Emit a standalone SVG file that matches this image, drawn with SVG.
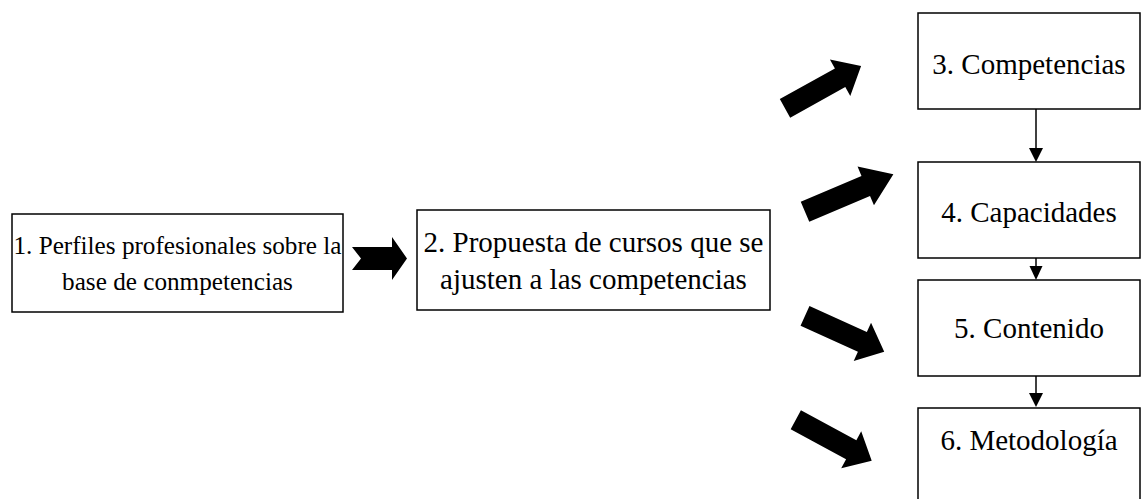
<svg xmlns="http://www.w3.org/2000/svg" width="1142" height="499" viewBox="0 0 1142 499">
  <style>
    .box { fill: #ffffff; stroke: #000000; stroke-width: 1.5; }
    .t { font-family: "Liberation Serif", "Times New Roman", serif; fill: #000000; text-anchor: middle; }
    .t25 { font-size: 25.2px; }
    .t28 { font-size: 29px; }
    .blk { fill: #000000; stroke: none; }
    .ln { stroke: #000000; stroke-width: 1.5; fill: none; }
  </style>
  <rect x="0" y="0" width="1142" height="499" fill="#ffffff"/>
  <g id="node1">
    <rect class="box" x="12" y="214" width="331" height="98"/>
    <text class="t t25" x="177.5" y="254">1. Perfiles profesionales sobre la</text>
    <text class="t t25" x="177.5" y="290">base de conmpetencias</text>
  </g>
  <g id="node2">
    <rect class="box" x="417" y="210" width="353" height="100"/>
    <text class="t t28" x="593.5" y="252">2. Propuesta de cursos que se</text>
    <text class="t t28" x="593.5" y="289">ajusten a las competencias</text>
  </g>
  <g id="node3">
    <rect class="box" x="918" y="13" width="222" height="96"/>
    <text class="t t28" x="1029" y="74">3. Competencias</text>
  </g>
  <g id="node4">
    <rect class="box" x="918" y="162" width="222" height="96"/>
    <text class="t t28" x="1029" y="222">4. Capacidades</text>
  </g>
  <g id="node5">
    <rect class="box" x="918" y="280" width="222" height="96"/>
    <text class="t t28" x="1029" y="338">5. Contenido</text>
  </g>
  <g id="node6">
    <rect class="box" x="918" y="408" width="222" height="100"/>
    <text class="t t28" x="1029" y="450">6. Metodología</text>
  </g>
  <g id="connectors">
    <polygon class="blk" points="352,247 392,247 392,237 407,258.5 392,280 392,270 352,270 361,258.5"/>
    <g transform="translate(785,108.3) rotate(-29)">
      <polygon class="blk" points="0,-10.7 63,-10.7 63,-21 87,0 63,21 63,10.7 0,10.7"/>
    </g>
    <g transform="translate(805,211.7) rotate(-23)">
      <polygon class="blk" points="0,-10.9 66,-10.9 66,-21 96,0 66,21 66,10.9 0,10.9"/>
    </g>
    <g transform="translate(805,315.8) rotate(24.4)">
      <polygon class="blk" points="0,-10.8 63,-10.8 63,-21 87,0 63,21 63,10.8 0,10.8"/>
    </g>
    <g transform="translate(795.8,419.7) rotate(28.4)">
      <polygon class="blk" points="0,-10.8 63,-10.8 63,-21 86.3,0 63,21 63,10.8 0,10.8"/>
    </g>
    <line class="ln" x1="1036" y1="109" x2="1036" y2="149"/>
    <polygon class="blk" points="1029,148 1043,148 1036,162"/>
    <line class="ln" x1="1036" y1="258" x2="1036" y2="267"/>
    <polygon class="blk" points="1029.5,266 1042.5,266 1036,280"/>
    <line class="ln" x1="1036" y1="376" x2="1036" y2="394"/>
    <polygon class="blk" points="1029,393 1043,393 1036,407"/>
  </g>
</svg>
